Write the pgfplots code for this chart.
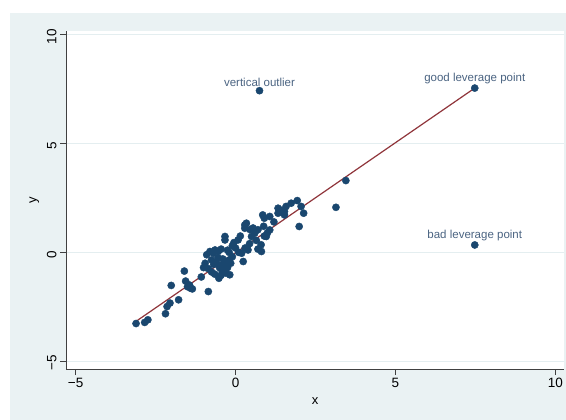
\documentclass[border=0pt]{standalone}
\usepackage{pgfplots}
\pgfplotsset{compat=1.18}
\usepackage{fontspec}
\setmainfont{Liberation Sans}
\definecolor{bgc}{RGB}{234,242,243}
\definecolor{gridc}{RGB}{228,238,240}
\definecolor{navy}{RGB}{26,71,111}
\definecolor{maroonc}{RGB}{144,53,59}
\definecolor{lblc}{RGB}{75,100,130}
\begin{document}
\begin{tikzpicture}
\path[use as bounding box] (0bp,0bp) rectangle (566bp,420bp);
\fill[white] (0bp,0bp) rectangle (566bp,420bp);
\fill[bgc] (10bp,0bp) rectangle (566bp,407bp);
\begin{axis}[
  at={(66bp,51bp)}, anchor=south west,
  width=498bp, height=337.5bp, scale only axis,
  xmin=-5.30, xmax=10.27, ymin=-5.36, ymax=10.15,
  axis background/.style={fill=white},
  axis lines*=left,
  axis line style={black!75, line width=0.7bp},
  tick align=outside, major tick length=6bp,
  tick style={black!75, line width=0.6bp},
  xtick={-5,0,5,10}, xticklabels={−5,0,5,10},
  ytick={-5,0,5,10}, yticklabels={−5,0,5,10},
  yticklabel style={rotate=90, anchor=south, xshift=-2bp, font=\fontsize{13.5bp}{15bp}\selectfont},
  xticklabel style={font=\fontsize{13.5bp}{15bp}\selectfont},
  ymajorgrids, major grid style={gridc, line width=1bp},
  xlabel={x}, ylabel={y},
  label style={font=\fontsize{13bp}{15bp}\selectfont},
  xlabel style={yshift=-3bp},
  ylabel style={yshift=1bp},
  clip=false,
]
\addplot[maroonc, line width=1.2bp] coordinates {(-3.14,-3.20) (7.48,7.55)};
\addplot[only marks, mark=*, mark size=3.6bp, navy, mark options={fill=navy, draw=navy}] table {
x y
-3.11 -3.27
-2.84 -3.22
-2.74 -3.10
-2.19 -2.82
-2.14 -2.49
-2.05 -2.33
-1.78 -2.18
-2.01 -1.52
-1.60 -0.86
-1.56 -1.32
-1.50 -1.58
-1.44 -1.50
-1.40 -1.65
-1.35 -1.68
-1.07 -1.13
-0.85 -1.80
-0.52 -1.19
-0.45 -1.05
-0.18 -1.03
-0.30 -0.95
-0.95 -0.50
-0.90 -0.11
-1.00 -0.70
-0.85 -0.75
-0.75 -0.90
-0.65 -1.00
-0.80 0.04
-0.69 -0.04
-0.64 0.11
-0.54 0.04
-0.75 -0.35
-0.68 -0.55
-0.60 -0.45
-0.55 -0.25
-0.50 -0.70
-0.45 -0.60
-0.42 -0.85
-0.40 -0.30
-0.35 -0.50
-0.30 -0.55
-0.25 -0.70
-0.20 -0.35
-0.20 0.00
-0.15 -0.50
-0.10 -0.20
-0.45 0.15
-0.25 0.10
-0.33 0.57
-0.33 0.73
-0.10 0.30
-0.05 0.45
0.00 0.20
0.08 0.57
0.10 0.00
0.19 -0.04
0.24 -0.42
0.30 0.20
0.39 0.11
0.44 0.40
0.50 0.73
0.15 0.75
0.29 1.26
0.34 1.34
0.29 1.11
0.45 1.05
0.55 1.12
0.60 0.88
0.65 0.55
0.70 1.04
0.70 0.15
0.81 0.04
0.80 0.35
0.90 0.75
0.96 0.73
1.00 0.90
1.07 1.03
0.85 1.72
0.90 1.57
0.88 1.20
1.07 1.65
1.20 1.40
1.33 2.03
1.33 1.80
1.40 1.95
1.53 1.88
1.53 1.72
1.58 2.11
1.74 2.26
1.93 2.38
2.05 2.11
2.13 1.80
1.99 1.19
3.14 2.07
3.45 3.30
};
\addplot[only marks, mark=*, mark size=3.6bp, navy, mark options={fill=navy, draw=navy},
  point meta=explicit symbolic, nodes near coords,
  every node near coord/.style={anchor=south, text=lblc, yshift=1bp, font=\fontsize{11.5bp}{13bp}\selectfont}]
  coordinates {(0.75,7.43) [vertical outlier] (7.48,7.55) [good leverage point] (7.48,0.34) [bad leverage point]};
\end{axis}
\end{tikzpicture}
\end{document}
